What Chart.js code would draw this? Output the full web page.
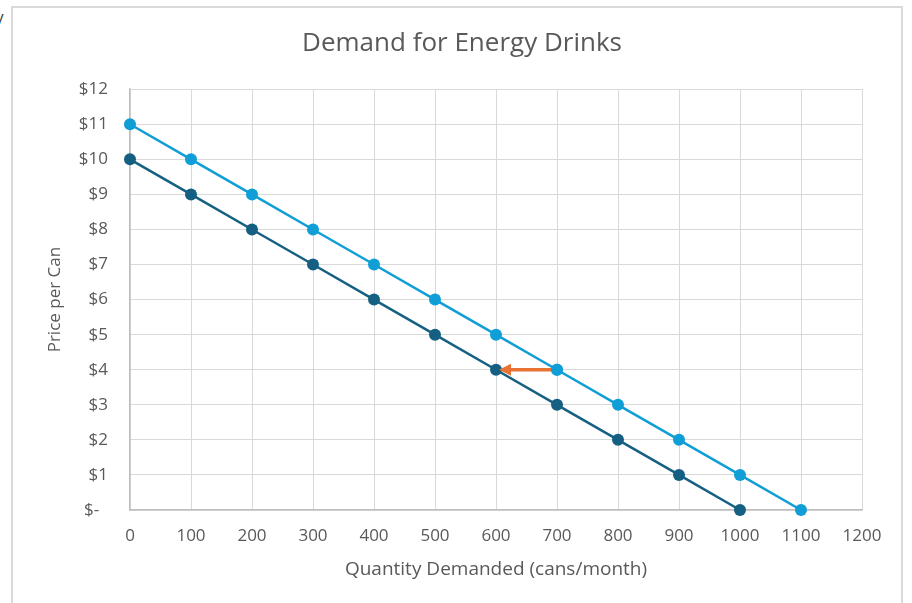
<!DOCTYPE html>
<html>
<head>
<meta charset="utf-8">
<script src="https://cdn.jsdelivr.net/npm/chart.js@4/dist/chart.umd.min.js"></script>
<style>
  html, body { margin: 0; padding: 0; background: #fff; width: 912px; height: 603px; overflow: hidden; }
  #frame { position: absolute; left: 11px; top: 6px; width: 892px; height: 620px; border: 2px solid #d9d9d9; box-sizing: border-box; }
  #edge { position: absolute; left: -4px; top: 6px; font: 15px "Open Sans", sans-serif; color: #333; }
  #wrap { position: absolute; left: 0; top: 0; width: 912px; height: 603px; }
</style>
</head>
<body>
<div id="frame"></div>
<div id="edge">y</div>
<div id="wrap"><canvas id="c" width="912" height="603"></canvas></div>
<script>
// Demand schedules: quantity demanded (cans/month) at each price
const quantityOriginal = [0, 100, 200, 300, 400, 500, 600, 700, 800, 900, 1000];
const priceOriginal    = [10, 9, 8, 7, 6, 5, 4, 3, 2, 1, 0];
const quantityShifted  = [0, 100, 200, 300, 400, 500, 600, 700, 800, 900, 1000, 1100];
const priceShifted     = [11, 10, 9, 8, 7, 6, 5, 4, 3, 2, 1, 0];

// Movement shown by the arrow (from the higher curve back to the original one)
const arrowStart = { q: 700, p: 4 };
const arrowEnd   = { q: 600, p: 4 };

// Axis tick labels
const priceTickLabels = ['$-  ', '$1', '$2', '$3', '$4', '$5', '$6', '$7', '$8', '$9', '$10', '$11', '$12'];

const FONT = '"Open Sans", sans-serif';
const TEXT = '#595959';
const GRID = '#d9d9d9';
const DARK = '#156082';
const LIGHT = '#0f9ed5';
const ORANGE = '#e97132';

const toPoints = (xs, ys) => xs.map((x, i) => ({ x, y: ys[i] }));

const arrowPlugin = {
  id: 'shiftArrow',
  afterDatasetsDraw(chart) {
    const { ctx, scales: { x, y } } = chart;
    const x0 = x.getPixelForValue(arrowStart.q);
    const x1 = x.getPixelForValue(arrowEnd.q);
    const yy = y.getPixelForValue(arrowEnd.p);
    const tip = x1 + 3;
    const head = 12;
    ctx.save();
    ctx.strokeStyle = ORANGE;
    ctx.fillStyle = ORANGE;
    ctx.lineWidth = 3.5;
    ctx.beginPath();
    ctx.moveTo(x0 - 6, yy);
    ctx.lineTo(tip + head - 1, yy);
    ctx.stroke();
    ctx.beginPath();
    ctx.moveTo(tip, yy);
    ctx.lineTo(tip + head, yy - 6);
    ctx.lineTo(tip + head, yy + 6);
    ctx.closePath();
    ctx.fill();
    // starting point stays on top of the arrow tail
    ctx.fillStyle = LIGHT;
    ctx.beginPath();
    ctx.arc(x0, yy, 6, 0, Math.PI * 2);
    ctx.fill();
    ctx.restore();
  }
};

new Chart(document.getElementById('c'), {
  type: 'scatter',
  data: {
    datasets: [
      {
        label: 'Demand',
        data: toPoints(quantityOriginal, priceOriginal),
        showLine: true,
        clip: false,
        borderColor: DARK,
        backgroundColor: DARK,
        borderWidth: 2.5,
        pointRadius: 6,
        pointBorderWidth: 0,
        tension: 0
      },
      {
        label: 'Demand (shifted)',
        data: toPoints(quantityShifted, priceShifted),
        showLine: true,
        clip: false,
        borderColor: LIGHT,
        backgroundColor: LIGHT,
        borderWidth: 2.5,
        pointRadius: 6,
        pointBorderWidth: 0,
        tension: 0
      }
    ]
  },
  options: {
    responsive: false,
    animation: false,
    layout: { padding: { left: 62, right: 50, top: 0, bottom: 0 } },
    plugins: {
      legend: { display: false },
      tooltip: { enabled: false },
      title: {
        display: true,
        text: 'Demand for Energy Drinks',
        color: TEXT,
        font: { family: FONT, size: 26, weight: 'normal' },
        padding: { top: 28, bottom: 30 }
      }
    },
    scales: {
      x: {
        type: 'linear',
        min: 0,
        max: 1200,
        ticks: {
          stepSize: 100,
          color: TEXT,
          padding: 16,
          font: { family: FONT, size: 17 },
          callback: (v) => String(v)
        },
        grid: { color: GRID, drawTicks: false },
        border: { color: '#bfbfbf', width: 1.5 },
        title: {
          display: true,
          text: 'Quantity Demanded (cans/month)',
          color: TEXT,
          font: { family: FONT, size: 19 },
          padding: { top: 0, bottom: 22 }
        },
        afterFit(scale) { scale.height = 93; }
      },
      y: {
        min: 0,
        max: 12,
        ticks: {
          stepSize: 1,
          color: TEXT,
          padding: 22,
          font: { family: FONT, size: 17 },
          callback: (v) => priceTickLabels[v]
        },
        grid: { color: GRID, drawTicks: false },
        border: { color: '#bfbfbf', width: 1.5 },
        title: {
          display: true,
          text: 'Price per Can',
          color: TEXT,
          font: { family: FONT, size: 17 },
          padding: { top: -17, bottom: 0 }
        },
        afterFit(scale) { scale.width = 68; }
      }
    }
  },
  plugins: [arrowPlugin]
});
</script>
</body>
</html>
